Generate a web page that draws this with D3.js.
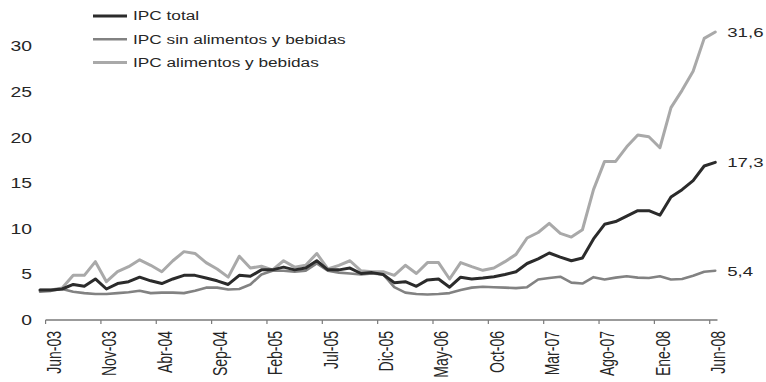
<!DOCTYPE html>
<html>
<head>
<meta charset="utf-8">
<script src="https://cdn.jsdelivr.net/npm/d3@7/dist/d3.min.js"></script>
<style>
  html, body { margin: 0; padding: 0; background: #fff; }
  svg { display: block; }
  text { font-family: "Liberation Sans", Arial, sans-serif; fill: #262626; }
</style>
</head>
<body>
<svg id="chart" width="766" height="382"></svg>
<script>
// Monthly year-on-year CPI variation (%), May-03 to Jun-08
const months = [
  "May-03","Jun-03","Jul-03","Ago-03","Sep-03","Oct-03","Nov-03","Dic-03",
  "Ene-04","Feb-04","Mar-04","Abr-04","May-04","Jun-04","Jul-04","Ago-04","Sep-04","Oct-04","Nov-04","Dic-04",
  "Ene-05","Feb-05","Mar-05","Abr-05","May-05","Jun-05","Jul-05","Ago-05","Sep-05","Oct-05","Nov-05","Dic-05",
  "Ene-06","Feb-06","Mar-06","Abr-06","May-06","Jun-06","Jul-06","Ago-06","Sep-06","Oct-06","Nov-06","Dic-06",
  "Ene-07","Feb-07","Mar-07","Abr-07","May-07","Jun-07","Jul-07","Ago-07","Sep-07","Oct-07","Nov-07","Dic-07",
  "Ene-08","Feb-08","Mar-08","Abr-08","May-08","Jun-08"
];

const tickLabels = ["Jun-03","Nov-03","Abr-04","Sep-04","Feb-05","Jul-05","Dic-05",
                    "May-06","Oct-06","Mar-07","Ago-07","Ene-08","Jun-08"];

const yTicks = [0, 5, 10, 15, 20, 25, 30];

const ipcTotal = [
  3.3, 3.3, 3.4, 3.9, 3.7, 4.5, 3.4, 4.0, 4.2, 4.7, 4.3, 4.0, 4.5, 4.9, 4.9, 4.6,
  4.3, 3.9, 4.9, 4.8, 5.5, 5.5, 5.8, 5.5, 5.7, 6.5, 5.5, 5.5, 5.7, 5.1, 5.2, 5.0,
  4.1, 4.2, 3.7, 4.4, 4.5, 3.6, 4.7, 4.5, 4.6, 4.75, 5.0, 5.3, 6.2, 6.7, 7.35, 6.9,
  6.5, 6.8, 8.9, 10.5, 10.8, 11.4, 12.0, 12.0, 11.5, 13.5, 14.3, 15.3, 16.9, 17.3
];

const ipcSinAlimentos = [
  3.1, 3.2, 3.4, 3.1, 2.95, 2.85, 2.85, 2.95, 3.05, 3.2, 2.95, 3.0, 3.0, 2.95, 3.2, 3.55,
  3.55, 3.35, 3.4, 3.9, 5.0, 5.4, 5.4, 5.3, 5.4, 6.2, 5.4, 5.2, 5.1, 5.0, 5.1, 5.0,
  3.6, 3.0, 2.85, 2.8, 2.85, 2.95, 3.3, 3.55, 3.65, 3.6, 3.55, 3.5, 3.6, 4.45, 4.6, 4.75,
  4.1, 4.0, 4.7, 4.45, 4.65, 4.8, 4.65, 4.6, 4.8, 4.45, 4.5, 4.85, 5.3, 5.4
];

const ipcAlimentos = [
  3.3, 3.3, 3.5, 4.9, 4.9, 6.4, 4.2, 5.3, 5.85, 6.6, 6.0, 5.3, 6.5, 7.5, 7.3, 6.3,
  5.6, 4.7, 7.0, 5.7, 5.9, 5.5, 6.5, 5.8, 6.0, 7.3, 5.6, 6.0, 6.5, 5.4, 5.3, 5.3,
  4.9, 6.0, 5.1, 6.3, 6.3, 4.5, 6.3, 5.85, 5.45, 5.7, 6.4, 7.2, 9.0, 9.6, 10.6, 9.5,
  9.1, 9.9, 14.3, 17.4, 17.4, 19.0, 20.3, 20.1, 18.9, 23.3, 25.2, 27.3, 30.9, 31.6
];

const seriesNames = ["IPC total", "IPC sin alimentos y bebidas", "IPC alimentos y bebidas"];
const seriesColors = ["#2b2b2b", "#828282", "#a9a9a9"];
const seriesWidths = [3, 2.6, 3];
const seriesValues = [ipcTotal, ipcSinAlimentos, ipcAlimentos];

const series = seriesNames.map((name, k) => ({
  name, color: seriesColors[k], width: seriesWidths[k], values: seriesValues[k]
}));

const svg = d3.select("#chart");
const stretch = 1.38;   // wide glyph proportions used for every label

// Scales
const x = d3.scaleBand().domain(months).range([34.5, 720.8]).paddingInner(0).paddingOuter(0);
const xc = m => x(m) + x.bandwidth() / 2;
const y = d3.scaleLinear().domain([0, 35]).range([320, 1]);

// Lines (drawn light first so the darker series stay on top)
const line = d3.line()
  .x((d, i) => xc(months[i]))
  .y(d => y(d));

svg.append("g").selectAll("path")
  .data(series.slice().reverse())
  .join("path")
  .attr("d", s => line(s.values))
  .attr("fill", "none")
  .attr("stroke", s => s.color)
  .attr("stroke-width", s => s.width)
  .attr("stroke-linejoin", "round")
  .attr("stroke-linecap", "round");

// X axis: baseline with ticks at the start of every labelled month
const axisY = y(0);
const xAxis = svg.append("g");
xAxis.append("line")
  .attr("x1", x(tickLabels[0]))
  .attr("x2", x(tickLabels[tickLabels.length - 1]) + x.bandwidth() * 0.7)
  .attr("y1", axisY).attr("y2", axisY)
  .attr("stroke", "#7a7a7a").attr("stroke-width", 1.3);

xAxis.selectAll("line.tick")
  .data(tickLabels)
  .join("line")
  .attr("class", "tick")
  .attr("x1", d => x(d)).attr("x2", d => x(d))
  .attr("y1", axisY).attr("y2", axisY + 4)
  .attr("stroke", "#7a7a7a").attr("stroke-width", 1.2);

xAxis.selectAll("text")
  .data(tickLabels)
  .join("text")
  .attr("transform", d => `translate(${x(d) + 8.5},${axisY + 11}) scale(${stretch},1) rotate(-90)`)
  .attr("text-anchor", "end")
  .attr("dy", "0.35em")
  .style("font-size", "14px")
  .text(d => d);

// Y axis labels (no axis line)
svg.append("g").selectAll("text")
  .data(yTicks)
  .join("text")
  .attr("transform", d => `translate(32,${y(d)}) scale(${stretch},1)`)
  .attr("text-anchor", "end")
  .attr("dy", "0.35em")
  .style("font-size", "14px")
  .text(d => d);

// End-of-series value labels
const fmt = v => d3.format(".1f")(v).replace(".", ",");
const last = months[months.length - 1];
svg.append("g").selectAll("text")
  .data(series)
  .join("text")
  .attr("transform", s => `translate(${xc(last) + 12},${y(s.values[s.values.length - 1])}) scale(${stretch},1)`)
  .attr("dy", "0.35em")
  .style("font-size", "13.5px")
  .text(s => fmt(s.values[s.values.length - 1]));

// Legend
const legend = svg.append("g").selectAll("g")
  .data(series)
  .join("g")
  .attr("transform", (s, i) => `translate(93,${16 + i * 23.3})`);

legend.append("line")
  .attr("x1", 0).attr("x2", 34)
  .attr("stroke", s => s.color)
  .attr("stroke-width", s => s.width);

legend.append("text")
  .attr("transform", `translate(40,0) scale(${stretch},1)`)
  .attr("dy", "0.35em")
  .style("font-size", "12.5px")
  .text(s => s.name);
</script>
</body>
</html>
